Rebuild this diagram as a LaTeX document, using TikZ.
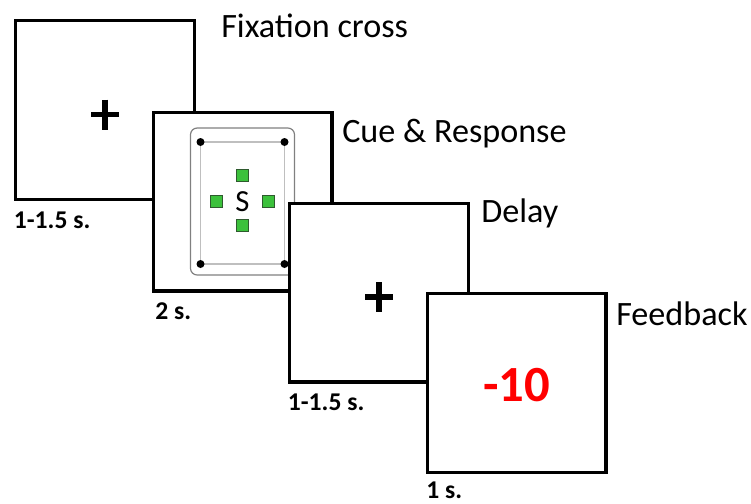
\documentclass[tikz,border=0pt]{standalone}
\usepackage{fontspec}
\setmainfont{Carlito}
\definecolor{cuegreen}{HTML}{3CC13C}
\definecolor{cueedge}{HTML}{2E5A2E}
\definecolor{framegray}{HTML}{808080}
\definecolor{screengray}{HTML}{BFBFBF}
\definecolor{lossred}{HTML}{FF0000}

\begin{document}
\begin{tikzpicture}[x=0.75pt, y=-0.75pt,
  panel/.style={draw=black, line width=2.5pt, fill=white, minimum size=134pt, inner sep=0pt, outer sep=0pt},
  title/.style={anchor=base west, inner sep=0pt, font=\fontsize{25.6}{30}\selectfont},
  duration/.style={anchor=base west, inner sep=0pt, font=\bfseries\fontsize{19.2}{22}\selectfont},
  target/.style={draw=cueedge, fill=cuegreen, line width=0.6pt, minimum size=9pt, inner sep=0pt}]

  \useasboundingbox (0,0) rectangle (751,504);

  % Fixation cross screen
  \node[panel] (fix) at (105,110) {};
  \draw[line width=3.9pt] ([shift={(-14,4.5)}]fix.center) -- ([shift={(14,4.5)}]fix.center);
  \draw[line width=3.9pt] ([shift={(0,-10.5)}]fix.center) -- ([shift={(0,19.5)}]fix.center);
  \node[title] (fixtitle) at (221,37) {Fixation cross};
  \node[duration] (fixtime) at ([shift={(-2,29)}]fix.south west) {1-1.5 s.};

  % Cue & response screen
  \node[panel] (cue) at (242.5,201.5) {};
  \begin{scope}[shift={(cue.center)}]
    \draw[framegray, line width=0.9pt, rounded corners=5pt] (-52,-73.5) rectangle (52,73.5);
    \draw[screengray, line width=1.2pt] (-42,-59.5) rectangle (42,62.5);
    \foreach \cx/\cy in {-42/-59.5, 42/-59.5, -42/62.5, 42/62.5}
      \fill (\cx,\cy) circle (3pt);
    \node[inner sep=0pt, font=\fontsize{23}{26}\selectfont] (letter) at (0,0) {S};
    \node[target] (up) at (0,-26) {};
    \node[target] (down) at (0,24) {};
    \node[target] (left) at (-26,0) {};
    \node[target] (right) at (26,0) {};
  \end{scope}
  \node[title] (cuetitle) at (342,142) {Cue \& Response};
  \node[duration] (cuetime) at ([shift={(2,29)}]cue.south west) {2 s.};

  % Delay screen
  \node[panel] (delay) at (379,292.5) {};
  \draw[line width=3.9pt] ([shift={(-14,4.5)}]delay.center) -- ([shift={(14,4.5)}]delay.center);
  \draw[line width=3.9pt] ([shift={(0,-10.5)}]delay.center) -- ([shift={(0,19.5)}]delay.center);
  \node[title] (delaytitle) at (481,222) {Delay};
  \node[duration] (delaytime) at ([shift={(-2,29)}]delay.south west) {1-1.5 s.};

  % Feedback screen
  \node[panel] (feedback) at (516.5,383) {};
  \node[inner sep=0pt, text=lossred, font=\bfseries\fontsize{38}{44}\selectfont] (score) at ([shift={(0,2)}]feedback.center) {-10};
  \node[title] (feedbacktitle) at (616,325) {Feedback};
  \node[duration] (feedbacktime) at ([shift={(-1,26)}]feedback.south west) {1 s.};

\end{tikzpicture}
\end{document}
